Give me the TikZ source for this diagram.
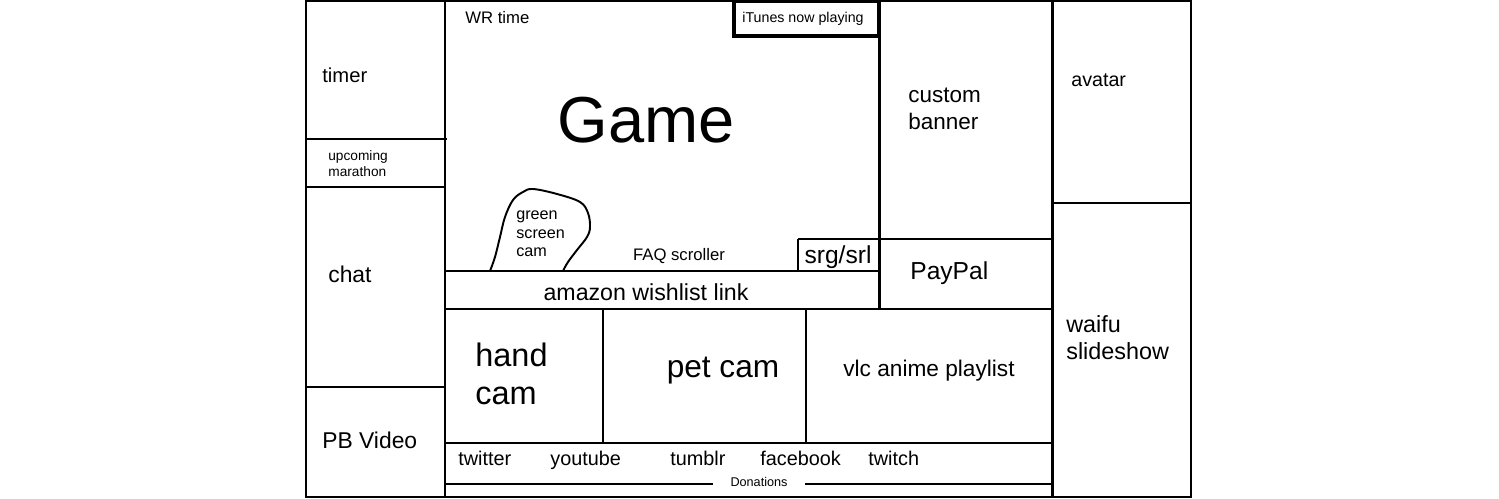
\documentclass[tikz,border=0pt]{standalone}
\usepackage{fontspec}
\setmainfont{Liberation Sans}
\usepackage{tikz}
\usetikzlibrary{positioning}
\newcommand{\fsz}[2]{\fontsize{#1pt}{#2pt}\selectfont}

\begin{document}
\begin{tikzpicture}[x=0.02cm, y=-0.02cm,
    wall/.style={line width=1.7pt},
    frame/.style={line width=1.2pt},
    lbl/.style={inner sep=0pt, anchor=west, align=left},
    mid/.style={inner sep=0pt},
    social/.style={inner sep=0pt, anchor=base west, font=\fsz{11.3}{13}}]
        \useasboundingbox (0,0) rectangle (1499,499);

        % Outer frame
        \draw[frame] (306,1) rectangle (1191,497);

        % Columns
        \draw[wall] (445,0) -- (445,497);
        \draw[wall] (879,0) -- (879,309);
        \draw[wall] (1052,0) -- (1052,497);

        % Left column
        \draw[wall] (306,139) -- (447,139);
        \draw[wall] (306,187) -- (445,187);
        \draw[wall] (306,387) -- (445,387);

        % Right column
        \draw[wall] (1052,203) -- (1191,203);

        % Middle area
        \draw[line width=2.2pt] (734,1) rectangle (879,36);
        \draw[wall] (798,239) -- (1052,239);
        \draw[wall] (798,239) -- (798,272);
        \draw[wall] (445,271) -- (879,271);
        \draw[wall] (445,309) -- (1052,309);
        \draw[wall] (603,309) -- (603,443);
        \draw[wall] (806,309) -- (806,443);
        \draw[wall] (445,443) -- (1052,443);
        \draw[wall] (445,484) -- (713,484);
        \draw[wall] (805,484) -- (1052,484);

        % Green screen blob
        \draw[line width=1.1pt] plot[smooth, tension=0.6] coordinates {
            (490,271) (495,257) (500,237) (505,217) (513,200) (523,192)
            (533,189) (557,194) (580,202) (588,213) (590,227) (587,237)
            (577,250) (568,262) (563,271)};

        % Labels
        \node[lbl, font=\fsz{9.5}{11}] (wr) at (465,18) {WR time};
        \node[mid, font=\fsz{8.1}{10}] (itunes) at (803,19) {iTunes now playing};
        \node[mid, font=\fsz{37}{40}] (game) at (646,120) {Game};
        \node[lbl, font=\fsz{11.5}{14}] (timer) at (322,75) {timer};
        \node[lbl, font=\fsz{7.8}{9}] (upcoming) at (328,164) {upcoming\\marathon};
        \node[lbl, font=\fsz{13}{15}] (chat) at (328,274) {chat};
        \node[lbl, font=\fsz{13}{15}] (pb) at (322,440) {PB Video};
        \node[lbl, font=\fsz{12.8}{15.3}] (banner) at (908,109) {custom\\banner};
        \node[lbl, font=\fsz{11.2}{13}] (avatar) at (1071,80) {avatar};
        \node[lbl, font=\fsz{9.2}{10.5}] (green) at (516,234) {green\\screen\\cam};
        \node[mid, font=\fsz{9.5}{11}] (faq) at (679,256) {FAQ scroller};
        \node[mid, font=\fsz{14}{16}] (srg) at (838,257) {srg/srl};
        \node[mid, font=\fsz{13.2}{15}] (amazon) at (646,292) {amazon wishlist link};
        \node[lbl, font=\fsz{14}{16}] (paypal) at (910,273) {PayPal};
        \node[lbl, font=\fsz{18.5}{21.5}] (hand) at (475,374) {hand\\cam};
        \node[mid, font=\fsz{18}{21}] (pet) at (723,371) {pet cam};
        \node[mid, font=\fsz{12.9}{15}] (vlc) at (929,371) {vlc anime playlist};
        \node[lbl, font=\fsz{13.3}{15.3}] (waifu) at (1066,338) {waifu\\slideshow};
        \node[social] (twitter) at (458,466) {twitter};
        \node[social] (youtube) at (550,466) {youtube};
        \node[social] (tumblr) at (670,466) {tumblr};
        \node[social] (facebook) at (760,466) {facebook};
        \node[social] (twitch) at (868,466) {twitch};
        \node[mid, font=\fsz{7.2}{9}] (donations) at (759,482) {Donations};
\end{tikzpicture}
\end{document}
